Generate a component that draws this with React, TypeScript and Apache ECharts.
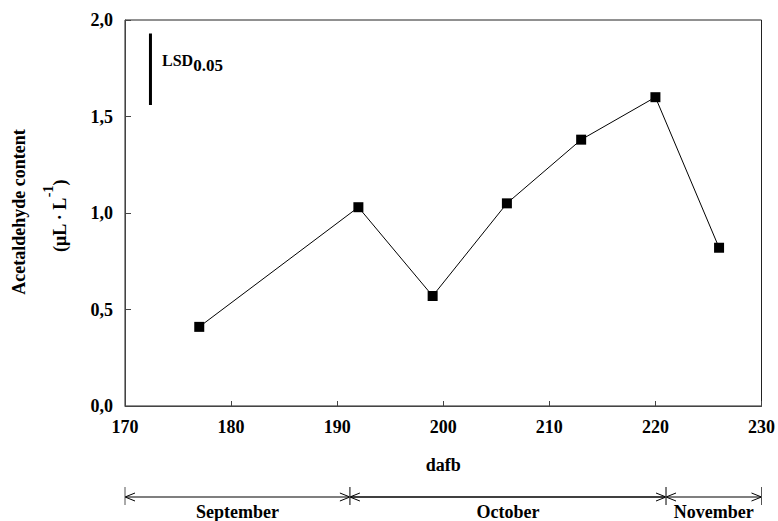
import React, { useEffect, useRef } from "react";
import * as echarts from "echarts";

// Days after full bloom and measured acetaldehyde content
const dafb = [177, 192, 199, 206, 213, 220, 226];
const acetaldehyde = [0.41, 1.03, 0.57, 1.05, 1.38, 1.6, 0.82];

// Least significant difference bar (drawn from lsdBase upward)
const lsdX = 172.4;
const lsdBase = 1.56;
const lsdValue = 0.37;

// Month spans along the dafb axis
const monthNames = ["September", "October", "November"];
const monthStart = [170, 191.2, 221];
const monthEnd = [191.2, 221, 230];

const yTicks = { min: 0, max: 2, interval: 0.5 };
const xTicks = { min: 170, max: 230, interval: 10 };

const FONT = "'Liberation Serif', 'Times New Roman', serif";

export default function App() {
  const ref = useRef<HTMLDivElement>(null);

  useEffect(() => {
    document.body.style.margin = "0";
    const chart = echarts.init(ref.current!, null, { renderer: "svg" });

    const monthData = monthNames.map((_, i) => [monthStart[i], monthEnd[i], 0]);

    chart.setOption({
      animation: false,
      grid: {
        left: 125,
        right: 16,
        top: 20,
        bottom: 115,
        show: true,
        borderColor: "#222",
        borderWidth: 1,
        backgroundColor: "transparent",
      },
      xAxis: {
        type: "value",
        min: xTicks.min,
        max: xTicks.max,
        interval: xTicks.interval,
        name: "dafb",
        nameLocation: "middle",
        nameGap: 50,
        nameTextStyle: { fontFamily: FONT, fontWeight: "bold", fontSize: 18, color: "#000" },
        axisLine: { lineStyle: { color: "#444", width: 1 } },
        axisTick: { inside: true, length: 5, lineStyle: { color: "#444" } },
        axisLabel: { fontFamily: FONT, fontWeight: "bold", fontSize: 18, color: "#000", margin: 12 },
        splitLine: { show: false },
      },
      yAxis: {
        type: "value",
        min: yTicks.min,
        max: yTicks.max,
        interval: yTicks.interval,
        axisLine: { show: true, lineStyle: { color: "#444", width: 1 } },
        axisTick: { show: true, inside: true, length: 6, lineStyle: { color: "#444" } },
        axisLabel: {
          fontFamily: FONT,
          fontWeight: "bold",
          fontSize: 18,
          color: "#000",
          margin: 12,
          formatter: (v: number) => v.toFixed(1).replace(".", ","),
        },
        splitLine: { show: false },
      },
      graphic: [
        {
          type: "text",
          x: 19,
          y: 212,
          rotation: Math.PI / 2,
          style: {
            text: "Acetaldehyde content",
            font: `bold 18px ${FONT}`,
            fill: "#000",
            align: "center",
            verticalAlign: "middle",
          },
        },
        {
          type: "text",
          x: 55,
          y: 216,
          rotation: Math.PI / 2,
          style: {
            text: "{m|(μL · L}{s|-1}{m|)}",
            fill: "#000",
            align: "center",
            verticalAlign: "middle",
            rich: {
              m: { font: `bold 18px ${FONT}`, fill: "#000", verticalAlign: "bottom", lineHeight: 28 },
              s: { font: `bold 14px ${FONT}`, fill: "#000", verticalAlign: "top", lineHeight: 28 },
            },
          },
        },
        {
          type: "text",
          x: 162,
          y: 63,
          style: {
            text: "{a|LSD}{b|0.05}",
            fill: "#000",
            align: "left",
            verticalAlign: "middle",
            rich: {
              a: { font: `bold 16px ${FONT}`, fill: "#000", verticalAlign: "top", lineHeight: 22 },
              b: { font: `bold 17px ${FONT}`, fill: "#000", verticalAlign: "bottom", lineHeight: 22 },
            },
          },
        },
      ],
      series: [
        {
          type: "line",
          data: dafb.map((d, i) => [d, acetaldehyde[i]]),
          symbol: "rect",
          symbolSize: 10,
          itemStyle: { color: "#000" },
          lineStyle: { color: "#000", width: 1 },
          z: 3,
        },
        {
          type: "line",
          data: [
            [lsdX, lsdBase],
            [lsdX, lsdBase + lsdValue],
          ],
          showSymbol: false,
          symbol: "none",
          lineStyle: { color: "#000", width: 3 },
          silent: true,
        },
        {
          type: "custom",
          clip: false,
          silent: true,
          encode: { x: [0, 1], y: 2 },
          data: monthData,
          renderItem: (params: any, api: any) => {
            const i = params.dataIndex;
            const p0 = api.coord([api.value(0), 0]);
            const p1 = api.coord([api.value(1), 0]);
            const y = p0[1] + 91;
            const a = 10;
            const h = 4;
            return {
              type: "group",
              children: [
                {
                  type: "line",
                  shape: { x1: p0[0], y1: y, x2: p1[0], y2: y },
                  style: { stroke: "#000", lineWidth: i === 1 ? 1.6 : 1.1 },
                },
                {
                  type: "polyline",
                  shape: { points: [[p0[0] + a, y - h], [p0[0], y], [p0[0] + a, y + h]] },
                  style: { stroke: "#000", fill: "none", lineWidth: 1 },
                },
                {
                  type: "polyline",
                  shape: { points: [[p1[0] - a, y - h], [p1[0], y], [p1[0] - a, y + h]] },
                  style: { stroke: "#000", fill: "none", lineWidth: 1 },
                },
                {
                  type: "line",
                  shape: { x1: p0[0], y1: y - 10, x2: p0[0], y2: y + 8 },
                  style: { stroke: "#555", lineWidth: 1 },
                },
                {
                  type: "line",
                  shape: { x1: p1[0], y1: y - 10, x2: p1[0], y2: y + 8 },
                  style: { stroke: "#555", lineWidth: 1 },
                },
                {
                  type: "text",
                  x: (p0[0] + p1[0]) / 2,
                  y: y + 15,
                  style: {
                    text: monthNames[i],
                    font: `bold 18px ${FONT}`,
                    fill: "#000",
                    align: "center",
                    verticalAlign: "middle",
                  },
                },
              ],
            };
          },
        },
      ],
    });

    return () => chart.dispose();
  }, []);

  return <div ref={ref} style={{ width: 778, height: 521 }} />;
}
